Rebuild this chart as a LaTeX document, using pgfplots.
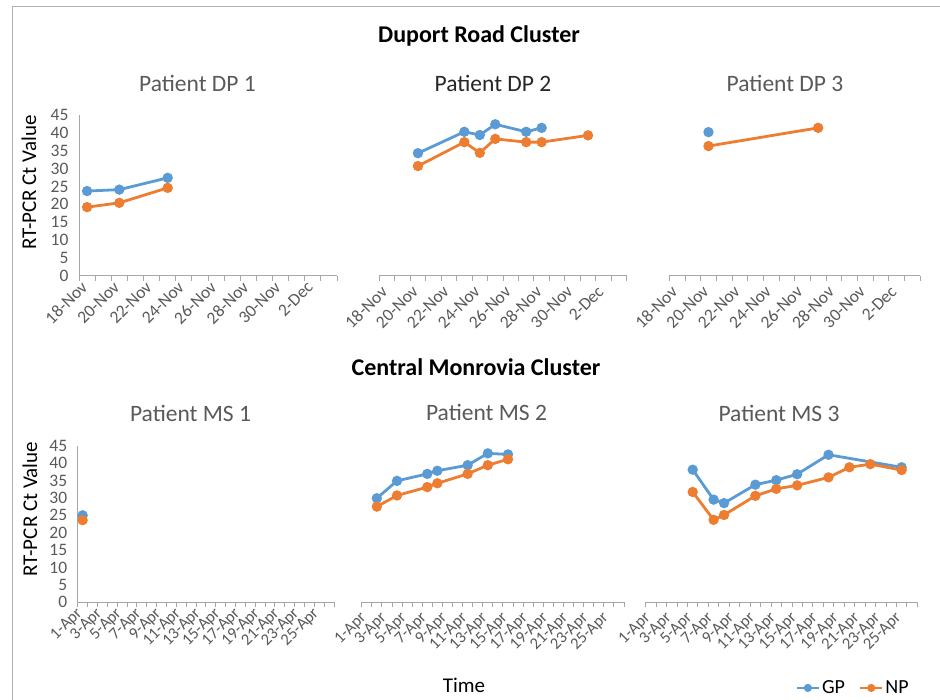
\documentclass[border=0pt]{standalone}
\usepackage{fontspec}
\setmainfont{Carlito}
\usepackage{pgfplots}
\pgfplotsset{compat=1.18}
\definecolor{gp}{HTML}{5B9BD5}
\definecolor{np}{HTML}{ED7D31}
\definecolor{txt}{HTML}{595959}
\definecolor{dark}{HTML}{262626}
\definecolor{axl}{HTML}{A6A6A6}
\pgfplotsset{
  panel/.style={
    scale only axis, anchor=south west, clip=false,
    ymin=0, ymax=45, xmin=-0.5,
    axis x line*=bottom, axis y line*=left,
    x axis line style={axl, line width=0.9pt},
    y axis line style={draw=none},
    ytick=\empty,
    major x tick style={draw=none},
    minor x tick style={axl, line width=0.9pt},
    minor tick length=5pt,
    tick align=outside,
    xticklabel style={xshift=-2pt, yshift=-8pt, rotate=45, anchor=east, text=txt, inner sep=1pt},
    /pgf/number format/assume math mode=true,
  },
  withy/.style={
    y axis line style={axl, line width=0.9pt, draw},
    ytick={0,5,...,45},
    major y tick style={draw=none},
    major tick length=0pt,
    yticklabel style={text=txt, font=\fontsize{17.5}{20}\selectfont, xshift=-7pt},
  },
  nov/.style={
    xmax=15.5,
    xtick={0,2,...,14},
    xticklabels={18-Nov,20-Nov,22-Nov,24-Nov,26-Nov,28-Nov,30-Nov,2-Dec},
    minor xtick={-0.5,0.5,...,15.5},
    xticklabel style={font=\fontsize{17.5}{20}\selectfont},
  },
  apr/.style={
    xmax=25.5,
    xtick={0,2,...,24},
    xticklabels={1-Apr,3-Apr,5-Apr,7-Apr,9-Apr,11-Apr,13-Apr,15-Apr,17-Apr,19-Apr,21-Apr,23-Apr,25-Apr},
    minor xtick={-0.5,0.5,...,25.5},
    xticklabel style={font=\fontsize{16.5}{19}\selectfont},
  },
  gpl/.style={gp, line width=2.8pt, mark=*, mark size=3.7pt, mark options={solid}},
  npl/.style={np, line width=2.8pt, mark=*, mark size=3.7pt, mark options={solid}},
}
\begin{document}
\begin{tikzpicture}
\path[use as bounding box] (0,0) rectangle (940pt,-700pt);
\draw[color=axl!85, line width=1pt] (12.7pt,-700pt) -- (12.7pt,-6.3pt) -- (940pt,-6.3pt);

% titles
\node[font=\bfseries\fontsize{24}{28}\selectfont, text=black] at (479pt,-36pt) {Duport Road Cluster};
\node[font=\bfseries\fontsize{24}{28}\selectfont, text=black] at (476pt,-367pt) {Central Monrovia Cluster};
\node[font=\fontsize{23.5}{27}\selectfont, text=txt] at (197.5pt,-83pt) {Patient DP 1};
\node[font=\fontsize{23.5}{27}\selectfont, text=dark] at (493pt,-83pt) {Patient DP 2};
\node[font=\fontsize{23.5}{27}\selectfont, text=txt] at (785pt,-83pt) {Patient DP 3};
\node[font=\fontsize{23.5}{27}\selectfont, text=txt] at (190.5pt,-413pt) {Patient MS 1};
\node[font=\fontsize{23.5}{27}\selectfont, text=txt] at (486.5pt,-412pt) {Patient MS 2};
\node[font=\fontsize{23.5}{27}\selectfont, text=txt] at (779pt,-413pt) {Patient MS 3};
\node[font=\fontsize{21}{24}\selectfont, text=black, rotate=90] at (29pt,-182.5pt) {RT-PCR Ct Value};
\node[font=\fontsize{21}{24}\selectfont, text=black, rotate=90] at (30pt,-509pt) {RT-PCR Ct Value};
\node[font=\fontsize{21}{25}\selectfont, text=black] at (464pt,-685pt) {Time};

% ---- top row
\begin{axis}[panel, withy, nov, at={(79pt,-275.7pt)}, width=258pt, height=160.7pt]
\addplot[gpl] coordinates {(0,23.7)(2,24.1)(5,27.4)};
\addplot[npl] coordinates {(0,19.2)(2,20.4)(5,24.6)};
\end{axis}
\begin{axis}[panel, nov, at={(379.3pt,-275.7pt)}, width=247.4pt, height=160.7pt]
\addplot[gpl] coordinates {(2,34.3)(5,40.3)(6,39.4)(7,42.4)(9,40.3)(10,41.4)};
\addplot[npl] coordinates {(2,30.7)(5,37.4)(6,34.4)(7,38.3)(9,37.4)(10,37.4)(13,39.3)};
\end{axis}
\begin{axis}[panel, nov, at={(669.3pt,-275.7pt)}, width=250.7pt, height=160.7pt]
\addplot[gpl] coordinates {(2,40.2)};
\addplot[npl] coordinates {(2,36.3)(9,41.4)};
\end{axis}

% ---- bottom row
\begin{axis}[panel, withy, apr, at={(77.7pt,-602.3pt)}, width=256.3pt, height=156.6pt]
\addplot[gpl] coordinates {(0,25.0)};
\addplot[npl] coordinates {(0,23.6)};
\end{axis}
\begin{axis}[panel, apr, at={(361.7pt,-602.3pt)}, width=262.3pt, height=156.6pt]
\addplot[gpl] coordinates {(1,29.9)(3,34.9)(6,36.9)(7,37.8)(10,39.4)(12,42.8)(14,42.5)};
\addplot[npl] coordinates {(1,27.5)(3,30.7)(6,33.1)(7,34.2)(10,36.9)(12,39.4)(14,41.1)};
\end{axis}
\begin{axis}[panel, apr, at={(645.7pt,-602.3pt)}, width=271.6pt, height=156.6pt,
  legend columns=2,
  legend style={at={(0.98,-0.547)}, anchor=east, draw=none, fill=none,
    font=\fontsize{20}{23}\selectfont, text=black, inner sep=1pt,
    /tikz/every even column/.append style={column sep=12pt}},
  legend image code/.code={\draw[#1, mark repeat=2, mark phase=2, mark size=2.8pt, line width=2.4pt] plot coordinates {(0pt,0pt)(11pt,0pt)(22pt,0pt)};},
  ]
\addplot[gpl] coordinates {(4,38.1)(6,29.5)(7,28.5)(10,33.8)(12,35.1)(14,36.8)(17,42.4)(24,38.8)};
\addplot[npl] coordinates {(4,31.7)(6,23.7)(7,25.1)(10,30.6)(12,32.6)(14,33.6)(17,35.9)(19,38.8)(21,39.7)(24,38.0)};
\legend{GP,NP}
\end{axis}
\end{tikzpicture}
\end{document}
